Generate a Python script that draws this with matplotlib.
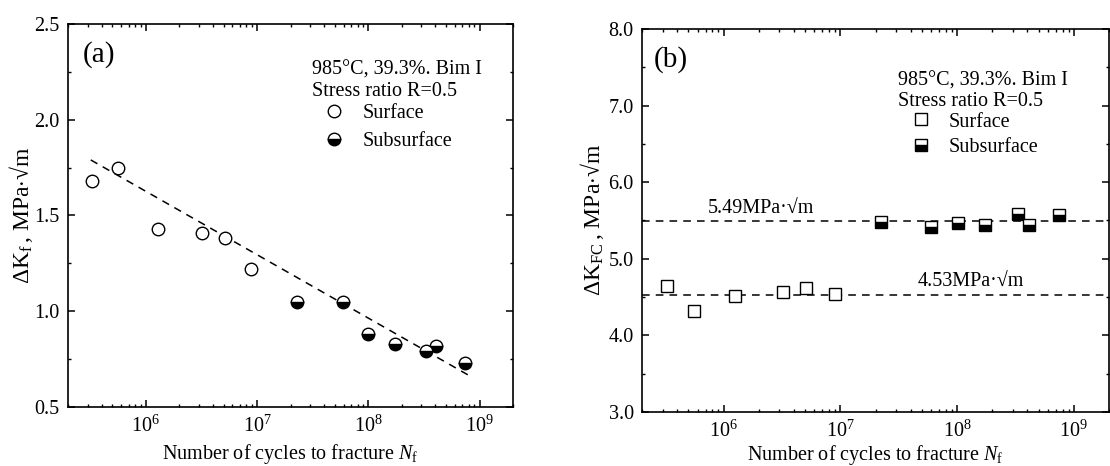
import numpy as np
import matplotlib
matplotlib.use("Agg")
import matplotlib.pyplot as plt
from matplotlib.ticker import LogLocator, MultipleLocator, NullFormatter

plt.rcParams['font.family'] = ['Liberation Serif', 'DejaVu Serif']
plt.rcParams['mathtext.fontset'] = 'custom'
plt.rcParams['mathtext.rm'] = 'Liberation Serif'
plt.rcParams['mathtext.it'] = 'Liberation Serif:italic'
plt.rcParams['font.size'] = 14.5

# (a) threshold stress intensity at the crack origin
a_surf_n = [3.27e5, 5.66e5, 1.28e6, 3.19e6, 5.1e6, 8.9e6]
a_surf_k = [1.68, 1.75, 1.43, 1.41, 1.385, 1.22]
a_sub_n = [2.27e7, 5.94e7, 1.0e8, 1.75e8, 3.32e8, 4.07e8, 7.45e8]
a_sub_k = [1.047, 1.047, 0.883, 0.828, 0.791, 0.817, 0.732]
a_fit_n = [3.2e5, 8.3e8]
a_fit_k = [1.79, 0.66]

# (b) stress intensity at the fish-eye / crack boundary
b_surf_n = [3.3e5, 5.6e5, 1.26e6, 3.2e6, 5.1e6, 8.96e6]
b_surf_k = [4.64, 4.32, 4.52, 4.57, 4.62, 4.54]
b_sub_n = [2.25e7, 5.97e7, 1.01e8, 1.75e8, 3.34e8, 4.1e8, 7.48e8]
b_sub_k = [5.48, 5.42, 5.47, 5.44, 5.59, 5.44, 5.57]
b_mean_sub = 5.49
b_mean_surf = 4.53

header = "985\u00b0C, 39.3%. Bim I\nStress ratio R=0.5"
xlabel = r"Number of cycles to fracture $N_\mathrm{f}$"
ylabel_a = "$\\Delta$K$_\\mathrm{f}$$\\,$, MPa$\\cdot$\u221am"
ylabel_b = "$\\Delta$K$_\\mathrm{FC}$$\\,$, MPa$\\cdot$\u221am"


def style_axes(ax, ymin, ymax, major, minor, xpad):
    ax.set_xscale('log')
    ax.set_xlim(2e5, 2e9)
    ax.set_ylim(ymin, ymax)
    ax.xaxis.set_major_locator(LogLocator(base=10, numticks=10))
    ax.xaxis.set_minor_locator(LogLocator(base=10, subs=np.arange(2, 10), numticks=20))
    ax.xaxis.set_minor_formatter(NullFormatter())
    ax.yaxis.set_major_locator(MultipleLocator(major))
    ax.yaxis.set_minor_locator(MultipleLocator(minor))
    ax.yaxis.set_major_formatter(plt.FormatStrFormatter('%.1f'))
    ax.tick_params(which='both', direction='in', top=True, right=True)
    ax.tick_params(which='major', length=5, width=1.1, labelsize=14.5, pad=6)
    ax.tick_params(which='minor', length=2.5, width=1.0)
    for s in ax.spines.values():
        s.set_linewidth(1.2)
    ax.set_xlabel(xlabel, labelpad=xpad)


legend_kw = dict(loc='upper left', frameon=False, handlelength=1.0,
                 handletextpad=0.9, borderpad=0, borderaxespad=0,
                 fontsize=14.5)

fig = plt.figure(figsize=(11.1, 4.66), dpi=100)

# ---------------- panel (a)
ax1 = fig.add_axes([0.0613, 0.1266, 0.4009, 0.822])
style_axes(ax1, 0.5, 2.5, 0.5, 0.25, xpad=4)
ax1.plot(a_fit_n, a_fit_k, ls=(0, (5, 4)), color='black', lw=1.1)
ax1.plot(a_surf_n, a_surf_k, ls='none', marker='o', ms=9, mfc='white',
         mec='black', mew=1.0, label='Surface')
ax1.plot(a_sub_n, a_sub_k, ls='none', marker='o', ms=9, fillstyle='bottom',
         mfc='black', mfcalt='white', mec='black', mew=1.0, label='Subsurface')
ax1.set_ylabel(ylabel_a, fontsize=17, labelpad=-0.5)
ax1.text(0.034, 0.919, "(a)", transform=ax1.transAxes, fontsize=21, va='center')
ax1.text(0.548, 0.905, header, transform=ax1.transAxes, va='top', linespacing=1.2)
ax1.legend(bbox_to_anchor=(0.575, 0.79), labelspacing=0.4, **legend_kw)

# ---------------- panel (b)
ax2 = fig.add_axes([0.5784, 0.1159, 0.4207, 0.822])
style_axes(ax2, 3.0, 8.0, 1.0, 0.5, xpad=1)
ax2.axhline(b_mean_sub, ls=(0, (5, 4)), color='black', lw=1.1)
ax2.axhline(b_mean_surf, ls=(0, (5, 4)), color='black', lw=1.1)
ax2.plot(b_surf_n, b_surf_k, ls='none', marker='s', ms=8, mfc='white',
         mec='black', mew=1.0, label='Surface')
ax2.plot(b_sub_n, b_sub_k, ls='none', marker='s', ms=8, fillstyle='bottom',
         mfc='black', mfcalt='white', mec='black', mew=1.0, label='Subsurface')
ax2.set_ylabel(ylabel_b, fontsize=17, labelpad=2)
ax2.text(0.026, 0.919, "(b)", transform=ax2.transAxes, fontsize=21, va='center')
ax2.text(0.548, 0.888, header, transform=ax2.transAxes, va='top', linespacing=1.1)
ax2.legend(bbox_to_anchor=(0.575, 0.782), labelspacing=0.3, **legend_kw)
ax2.text(0.141, 0.528, "%.2fMPa\u00b7\u221am" % b_mean_sub, transform=ax2.transAxes, va='center')
ax2.text(0.591, 0.337, "%.2fMPa\u00b7\u221am" % b_mean_surf, transform=ax2.transAxes, va='center')

fig.savefig("out.png", dpi=100)
